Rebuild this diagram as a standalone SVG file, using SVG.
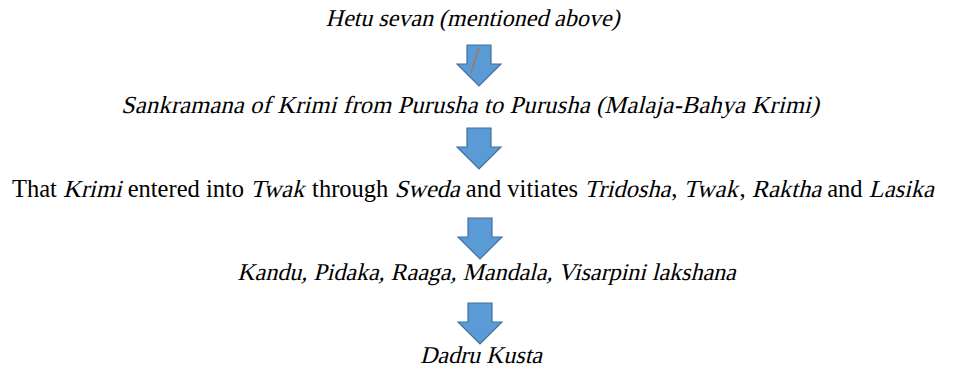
<svg xmlns="http://www.w3.org/2000/svg" width="954" height="372" viewBox="0 0 954 372">
<defs>
<path id="arr" d="M-12,0 H12 V19 H22 L0,41 L-22,19 H-12 Z" fill="#5B9BD5" stroke="#41719C" stroke-width="1.2"/>
</defs>
<rect width="954" height="372" fill="#fff"/>
<g id="connectors">
<use href="#arr" x="479" y="45"/>
<line x1="479" y1="48" x2="471" y2="73" stroke="#A0785A" stroke-width="1.5"/>
<use href="#arr" x="479" y="128"/>
<use href="#arr" x="480" y="218"/>
<use href="#arr" x="480" y="303"/>
</g>
<g id="n1"><text transform="translate(472.5,26) skewX(-14)" x="0" y="0" font-size="24" font-family="Liberation Serif" text-anchor="middle">Hetu sevan (mentioned above)</text></g>
<g id="n2"><text transform="translate(470,113) skewX(-14)" x="0" y="0" font-size="24.5" font-family="Liberation Serif" text-anchor="middle" textLength="698" lengthAdjust="spacing">Sankramana of Krimi from Purusha to Purusha (Malaja-Bahya Krimi)</text></g>
<g id="n3">
<text x="12" y="197" font-size="24.5" font-family="Liberation Serif">That</text>
<text transform="translate(63.03,197) skewX(-14)" font-size="24.5" font-family="Liberation Serif">Krimi</text>
<text x="127.69" y="197" font-size="24.5" font-family="Liberation Serif">entered into</text>
<text transform="translate(250.16,197) skewX(-14)" font-size="24.5" font-family="Liberation Serif">Twak</text>
<text x="312.08" y="197" font-size="24.5" font-family="Liberation Serif">through</text>
<text transform="translate(394.42,197) skewX(-14)" font-size="24.5" font-family="Liberation Serif">Sweda</text>
<text x="465.87" y="197" font-size="24.5" font-family="Liberation Serif">and vitiates</text>
<text transform="translate(584.27,197) skewX(-14)" font-size="24.5" font-family="Liberation Serif">Tridosha</text>
<text x="671.37" y="197" font-size="24.5" font-family="Liberation Serif">,</text>
<text transform="translate(683.62,197) skewX(-14)" font-size="24.5" font-family="Liberation Serif">Twak</text>
<text x="739.41" y="197" font-size="24.5" font-family="Liberation Serif">,</text>
<text transform="translate(751.66,197) skewX(-14)" font-size="24.5" font-family="Liberation Serif">Raktha</text>
<text x="827.2" y="197" font-size="24.5" font-family="Liberation Serif">and</text>
<text transform="translate(868.7,197) skewX(-14)" font-size="24.5" font-family="Liberation Serif">Lasika</text>
</g>
<g id="n4"><text transform="translate(486.5,280) skewX(-14)" x="0" y="0" font-size="24" font-family="Liberation Serif" text-anchor="middle">Kandu, Pidaka, Raaga, Mandala, Visarpini lakshana</text></g>
<g id="n5"><text transform="translate(481,363) skewX(-14)" x="0" y="0" font-size="24" font-family="Liberation Serif" text-anchor="middle">Dadru Kusta</text></g>
</svg>
